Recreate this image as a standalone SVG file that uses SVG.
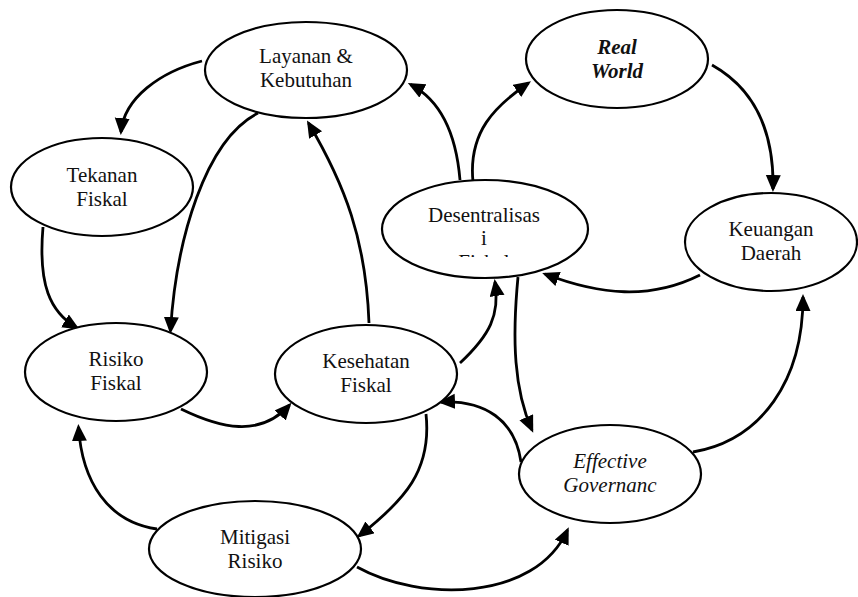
<svg xmlns="http://www.w3.org/2000/svg" width="858" height="597" viewBox="0 0 858 597">
  <style>
    .node ellipse { fill: #ffffff; stroke: #000000; stroke-width: 2.2; }
    .node text { font-family: "Liberation Serif", "Times New Roman", serif; font-size: 21px; fill: #111111; text-anchor: middle; }
    .it { font-style: italic; }
    .bi { font-style: italic; font-weight: bold; }
    #connectors path { fill: none; stroke: #000000; stroke-width: 2.8; marker-end: url(#arrow); }
  </style>
  <defs>
    <marker id="arrow" markerUnits="userSpaceOnUse" markerWidth="18" markerHeight="16" refX="14" refY="7.5" orient="auto">
      <path d="M0,0 L17,7.5 L0,15 z" fill="#000000"/>
    </marker>
    <clipPath id="clipDesen">
      <rect x="380" y="180" width="210" height="77"/>
    </clipPath>
  </defs>
  <rect width="858" height="597" fill="#ffffff"/>

  <g id="connectors">
    <!-- Layanan & Kebutuhan -> Tekanan Fiskal -->
    <path d="M202,61 C160,72 124,98 121,132"/>
    <!-- Layanan & Kebutuhan -> Risiko Fiskal -->
    <path d="M258,113 C205,140 176,240 170.5,331"/>
    <!-- Tekanan Fiskal -> Risiko Fiskal -->
    <path d="M43,227 C38,285 50,312 77,328"/>
    <!-- Kesehatan Fiskal -> Layanan & Kebutuhan -->
    <path d="M369,323 C366,240 345,185 308.5,123"/>
    <!-- Risiko Fiskal -> Kesehatan Fiskal -->
    <path d="M181,409 C220,428 260,438 289.5,405"/>
    <!-- Mitigasi Risiko -> Risiko Fiskal -->
    <path d="M157,529 C108,522 82,482 78.5,427"/>
    <!-- Kesehatan Fiskal -> Mitigasi Risiko -->
    <path d="M426,414 C432,470 405,500 359,536"/>
    <!-- Mitigasi Risiko -> Effective Governance -->
    <path d="M357,567 C420,602 535,602 567.5,530"/>
    <!-- Effective Governance -> Kesehatan Fiskal -->
    <path d="M521,462 C515,420 485,400 441,402"/>
    <!-- Kesehatan Fiskal -> Desentralisasi -->
    <path d="M460,363 C490,335 500,315 495,282"/>
    <!-- Desentralisasi -> Effective Governance -->
    <path d="M518,277 C512,340 514,390 532,430"/>
    <!-- Desentralisasi -> Layanan & Kebutuhan -->
    <path d="M460,180 C456,132 440,100 410.5,84.5"/>
    <!-- Desentralisasi -> Real World -->
    <path d="M473,182 C468,132 495,106 528.5,83"/>
    <!-- Real World -> Keuangan Daerah -->
    <path d="M712,65 C760,92 774,140 773,189"/>
    <!-- Keuangan Daerah -> Desentralisasi -->
    <path d="M700,275 C650,300 600,295 545,274"/>
    <!-- Effective Governance -> Keuangan Daerah -->
    <path d="M693,452 C762,440 803,380 803,297"/>
  </g>

  <g id="layanan" class="node">
    <ellipse cx="306" cy="70" rx="101" ry="48"/>
    <text x="306" y="63">Layanan &amp;</text>
    <text x="306" y="87">Kebutuhan</text>
  </g>

  <g id="tekanan" class="node">
    <ellipse cx="102" cy="187" rx="91" ry="49"/>
    <text x="102" y="182">Tekanan</text>
    <text x="102" y="206">Fiskal</text>
  </g>

  <g id="risiko" class="node">
    <ellipse cx="116" cy="372" rx="91" ry="49"/>
    <text x="116" y="366">Risiko</text>
    <text x="116" y="390">Fiskal</text>
  </g>

  <g id="kesehatan" class="node">
    <ellipse cx="366" cy="374" rx="91" ry="49"/>
    <text x="366" y="368">Kesehatan</text>
    <text x="366" y="392">Fiskal</text>
  </g>

  <g id="mitigasi" class="node">
    <ellipse cx="255" cy="549" rx="106" ry="48"/>
    <text x="255" y="544">Mitigasi</text>
    <text x="255" y="568">Risiko</text>
  </g>

  <g id="realworld" class="node">
    <ellipse cx="617" cy="59" rx="91" ry="49"/>
    <text class="bi" x="617" y="54">Real</text>
    <text class="bi" x="617" y="78">World</text>
  </g>

  <g id="desentralisasi" class="node">
    <ellipse cx="485" cy="229" rx="103" ry="49"/>
    <g clip-path="url(#clipDesen)">
      <text x="484" y="222">Desentralisas</text>
      <text x="484" y="245">i</text>
      <text x="484" y="269">Fiskal</text>
    </g>
  </g>

  <g id="keuangan" class="node">
    <ellipse cx="771" cy="242" rx="86" ry="49"/>
    <text x="771" y="236">Keuangan</text>
    <text x="771" y="260">Daerah</text>
  </g>

  <g id="effective" class="node">
    <ellipse cx="610" cy="474" rx="91" ry="49"/>
    <text class="it" x="610" y="468">Effective</text>
    <text class="it" x="610" y="492">Governanc</text>
  </g>
</svg>
